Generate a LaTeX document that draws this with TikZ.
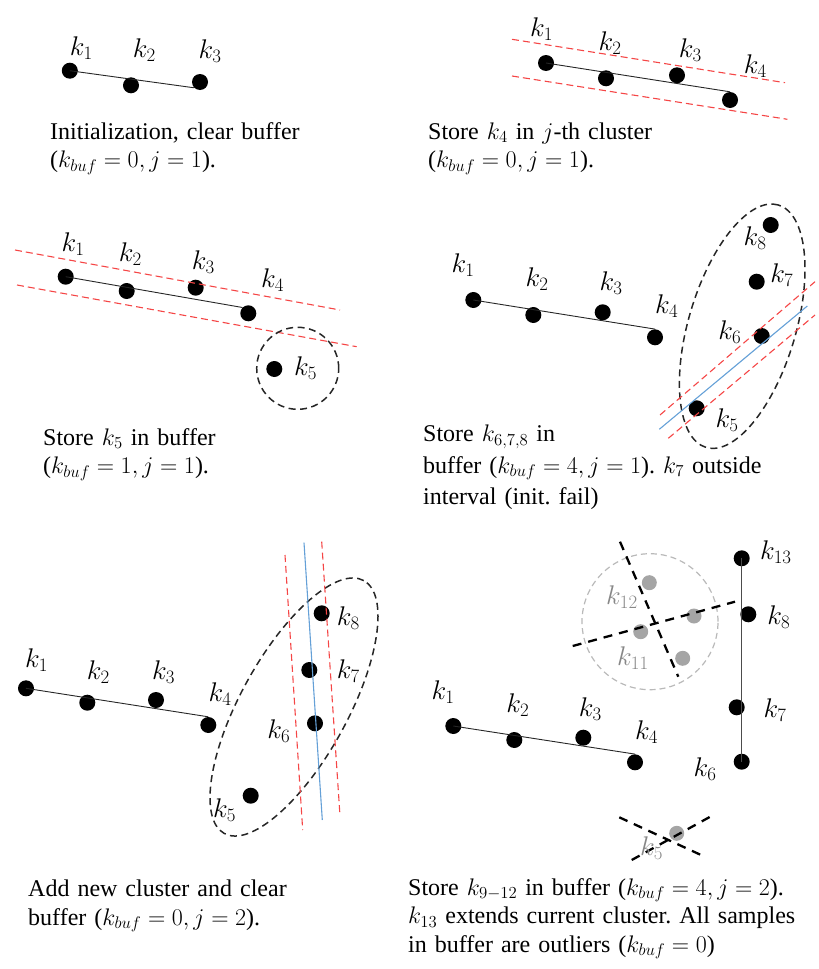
\RequirePackage{fix-cm}
\documentclass[tikz,border=0pt]{standalone}
\usepackage{fontspec}
\setmainfont{Liberation Serif}
\usepackage{xcolor}
\usepackage{tikz}
\definecolor{bandred}{RGB}{245,70,70}
\definecolor{fitblue}{RGB}{100,160,215}
\definecolor{ptgray}{RGB}{165,165,165}
\definecolor{lblgray}{RGB}{135,135,135}
\definecolor{halogray}{RGB}{185,185,185}
\frenchspacing
\tikzset{
  dot/.style={circle, fill=black, inner sep=0pt, minimum size=16pt},
  gdot/.style={dot, fill=ptgray, minimum size=15pt},
  lbl/.style={font=\fontsize{27}{30}\selectfont, inner sep=0pt},
  glbl/.style={lbl, text=lblgray},
  capt/.style={font=\fontsize{24}{28.5}\selectfont, anchor=base west, inner sep=0pt,
    text width=400pt, align=left},
  seg/.style={line width=0.9pt, black!85},
  vseg/.style={line width=0.9pt, black!70},
  band/.style={line width=1.1pt, bandred, dash pattern=on 7pt off 4pt},
  fitln/.style={line width=1.1pt, fitblue},
  clus/.style={line width=1.5pt, black!85, dash pattern=on 7pt off 4.5pt},
  halo/.style={line width=1.2pt, halogray, dash pattern=on 6pt off 4pt},
  xcut/.style={line width=2.3pt, black, dash pattern=on 9pt off 7pt}
}
\begin{document}
\begin{tikzpicture}[x=1pt, y=-1pt]
  \useasboundingbox (0,0) rectangle (819,969);
  % initialization
  \node[dot] (a1) at (69.8,70.7) {};
  \node[dot] (a2) at (131,85.3) {};
  \node[dot] (a3) at (200,82) {};
  \draw[seg] (a1.center) -- (a3.south west);
  \node[lbl] at (81.4,48.3) {$k_1$};
  \node[lbl] at (144.4,50.3) {$k_2$};
  \node[lbl] at (210,50.7) {$k_3$};
  \node[capt] (capa) at (50,139) {Initialization, clear buffer\\($k_{buf}=0, j=1$).};

  % store k4
  \node[dot] (b1) at (546,63) {};
  \node[dot] (b2) at (606,78.3) {};
  \node[dot] (b3) at (677,75.3) {};
  \node[dot] (b4) at (730,100) {};
  \draw[seg] (b1.center) -- (b4.north);
  \coordinate (bu1) at (512,39.3);
  \coordinate (bu2) at (785,82.7);
  \coordinate (bl1) at (512,76);
  \coordinate (bl2) at (787.4,119.3);
  \draw[band] (bu1) -- (bu2);
  \draw[band] (bl1) -- (bl2);
  \node[lbl] at (541.7,29) {$k_1$};
  \node[lbl] at (610,43.3) {$k_2$};
  \node[lbl] at (690.3,49.7) {$k_3$};
  \node[lbl] at (755.4,66.3) {$k_4$};
  \node[capt] (capb) at (428,139) {Store $k_4$ in $j$-th cluster\\($k_{buf}=0, j=1$).};

  % store k5
  \node[dot] (c1) at (65.7,276.7) {};
  \node[dot] (c2) at (126.7,291) {};
  \node[dot] (c3) at (195.7,287.7) {};
  \node[dot] (c4) at (248.3,313.3) {};
  \node[dot] (c5) at (274.3,369) {};
  \draw[seg] (c1.center) -- (c4.north west);
  \coordinate (cu1) at (15,250);
  \coordinate (cu2) at (340,310);
  \coordinate (cl1) at (17,285);
  \coordinate (cl2) at (356.7,346.7);
  \draw[band] (cu1) -- (cu2);
  \draw[band] (cl1) -- (cl2);
  \draw[clus] (297.7,368.3) circle [radius=41pt];
  \node[lbl] at (73,244.2) {$k_1$};
  \node[lbl] at (130.3,254) {$k_2$};
  \node[lbl] at (203.3,261.7) {$k_3$};
  \node[lbl] at (272.7,280) {$k_4$};
  \node[lbl] at (305.5,368.3) {$k_5$};
  \node[capt] (capc) at (43,445) {Store $k_5$ in buffer\\($k_{buf}=1, j=1$).};

  % store k6,7,8
  \node[dot] (d1) at (473.3,300) {};
  \node[dot] (d2) at (533.3,315) {};
  \node[dot] (d3) at (602.7,312.3) {};
  \node[dot] (d4) at (655,337.3) {};
  \node[dot] (d5) at (696.7,408.3) {};
  \node[dot] (d6) at (761.7,336) {};
  \node[dot] (d7) at (756.7,281.7) {};
  \node[dot] (d8) at (770.7,225) {};
  \draw[seg] (d1.center) -- (d4.north);
  \draw[clus, rotate around={73.4:(742.2,326.2)}] (742.2,326.2)
    ellipse [x radius=126.5pt, y radius=53.6pt];
  \coordinate (du1) at (660,415);
  \coordinate (du2) at (815,281.7);
  \coordinate (dl1) at (668.3,438.3);
  \coordinate (dl2) at (815,315);
  \coordinate (df1) at (659.3,429.3);
  \coordinate (df2) at (807.3,306);
  \draw[band] (du1) -- (du2);
  \draw[band] (dl1) -- (dl2);
  \draw[fitln] (df1) -- (df2);
  \node[lbl] at (463,265.3) {$k_1$};
  \node[lbl] at (537,278.7) {$k_2$};
  \node[lbl] at (611,283.3) {$k_3$};
  \node[lbl] at (666.7,306) {$k_4$};
  \node[lbl] at (727,420) {$k_5$};
  \node[lbl] at (729.7,332.5) {$k_6$};
  \node[lbl] at (781.7,274.7) {$k_7$};
  \node[lbl] at (755,238.3) {$k_8$};
  \node[capt, font=\fontsize{24}{31.5}\selectfont] (capd) at (423,441.7)
    {Store $k_{6,7,8}$ in\\buffer ($k_{buf}=4, j=1$). $k_7$ outside\\interval (init. fail)};

  % new cluster
  \node[dot] (e1) at (26,688.3) {};
  \node[dot] (e2) at (87.3,702.7) {};
  \node[dot] (e3) at (156,700) {};
  \node[dot] (e4) at (208.3,725) {};
  \node[dot] (e5) at (250.7,795.7) {};
  \node[dot] (e6) at (315,723.3) {};
  \node[dot] (e7) at (309.3,670) {};
  \node[dot] (e8) at (321.7,613.3) {};
  \draw[seg] (e1.center) -- (e4.north);
  \draw[clus, rotate around={61.1:(294,707)}] (294,707)
    ellipse [x radius=144.4pt, y radius=53.4pt];
  \coordinate (eu1) at (285,555);
  \coordinate (eu2) at (302.7,830);
  \coordinate (el1) at (321.7,541.7);
  \coordinate (el2) at (340,816);
  \coordinate (ef1) at (304,542.7);
  \coordinate (ef2) at (322.3,820);
  \draw[band] (eu1) -- (eu2);
  \draw[band] (el1) -- (el2);
  \draw[fitln] (ef1) -- (ef2);
  \node[lbl] at (36.7,660) {$k_1$};
  \node[lbl] at (98.3,672) {$k_2$};
  \node[lbl] at (163.7,671.7) {$k_3$};
  \node[lbl] at (220,694.2) {$k_4$};
  \node[lbl] at (224.5,810) {$k_5$};
  \node[lbl] at (278.8,730.8) {$k_6$};
  \node[lbl] at (348.3,671.3) {$k_7$};
  \node[lbl] at (348.3,618.3) {$k_8$};
  \node[capt] (cape) at (28,896.7) {Add new cluster and clear\\buffer ($k_{buf}=0, j=2$).};

  % outliers
  \node[dot] (f1) at (453.3,726) {};
  \node[dot] (f2) at (514.3,740) {};
  \node[dot] (f3) at (583.3,737.7) {};
  \node[dot] (f4) at (635,762.3) {};
  \node[dot] (f6) at (741.7,761.7) {};
  \node[dot] (f7) at (736.7,707.3) {};
  \node[dot] (f8) at (748.3,614.3) {};
  \node[dot] (f13) at (741.7,558.3) {};
  \node[gdot] (f5) at (676.7,833.3) {};
  \node[gdot] (f9) at (682.7,658.3) {};
  \node[gdot] (f10) at (694,616) {};
  \node[gdot] (f11) at (640.7,631.7) {};
  \node[gdot] (f12) at (649.3,582.7) {};
  \draw[seg] (f1.center) -- (f4.north);
  \draw[vseg] (f13.center) -- (f6.center);
  \draw[halo] (650,621.7) circle [radius=68pt];
  \coordinate (fa1) at (620,541.7);
  \coordinate (fa2) at (678.3,676.7);
  \coordinate (fb1) at (572.7,646);
  \coordinate (fb2) at (735,601.7);
  \coordinate (fc1) at (619.3,817.3);
  \coordinate (fc2) at (706,857.3);
  \coordinate (fd1) at (631.7,860);
  \coordinate (fd2) at (713.3,815);
  \draw[xcut] (fa1) -- (fa2);
  \draw[xcut] (fb1) -- (fb2);
  \draw[xcut] (fc1) -- (fc2);
  \draw[xcut] (fd1) -- (fd2);
  \node[lbl] at (443,691.7) {$k_1$};
  \node[lbl] at (517.8,705.3) {$k_2$};
  \node[lbl] at (590.3,709) {$k_3$};
  \node[lbl] at (646.7,732) {$k_4$};
  \node[lbl] at (705,769) {$k_6$};
  \node[lbl] at (775,710.5) {$k_7$};
  \node[lbl] at (778.8,617.5) {$k_8$};
  \node[lbl] at (775.8,551.7) {$k_{13}$};
  \node[glbl] at (622,597.5) {$k_{12}$};
  \node[glbl] at (633,658.3) {$k_{11}$};
  \node[glbl] at (651.7,848.3) {$k_5$};
  \node[capt] (capf) at (408,895)
    {Store $k_{9-12}$ in buffer ($k_{buf}=4, j=2$).\\$k_{13}$ extends current cluster. All samples\\in buffer are outliers ($k_{buf}=0$)};
\end{tikzpicture}
\end{document}
